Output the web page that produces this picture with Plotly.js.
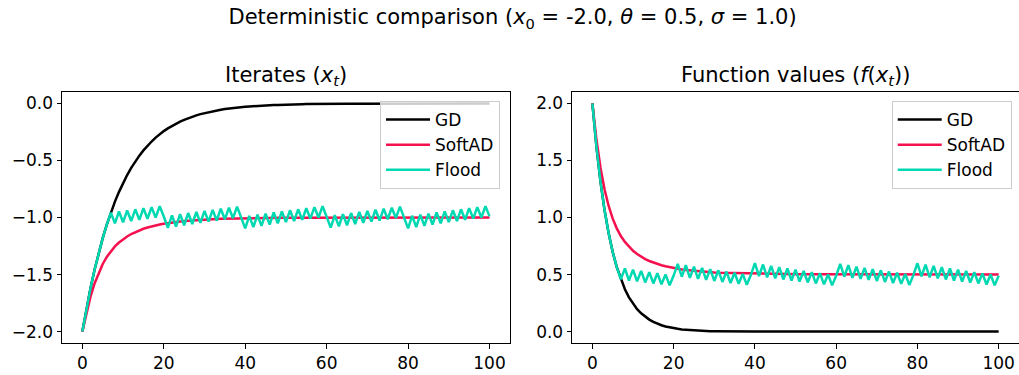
<!DOCTYPE html>
<html>
<head>
<meta charset="utf-8">
<script src="https://cdn.plot.ly/plotly-3.0.1.min.js"></script>
<style>html,body{margin:0;padding:0;background:#fff;}#chart{width:1019px;height:375px;}</style>
</head>
<body>
<div id="chart"></div>
<script>
const steps = [0,1,2,3,4,5,6,7,8,9,10,11,12,13,14,15,16,17,18,19,20,21,22,23,24,25,26,27,28,29,30,31,32,33,34,35,36,37,38,39,40,41,42,43,44,45,46,47,48,49,50,51,52,53,54,55,56,57,58,59,60,61,62,63,64,65,66,67,68,69,70,71,72,73,74,75,76,77,78,79,80,81,82,83,84,85,86,87,88,89,90,91,92,93,94,95,96,97,98,99,100];

const gdIterates = [
-2.000,-1.800,-1.620,-1.458,-1.312,-1.181,-1.063,-0.957,-0.861,-0.775,
-0.697,-0.628,-0.565,-0.508,-0.458,-0.412,-0.371,-0.334,-0.300,-0.270,
-0.243,-0.219,-0.197,-0.177,-0.160,-0.144,-0.129,-0.116,-0.105,-0.094,
-0.085,-0.076,-0.069,-0.062,-0.056,-0.050,-0.045,-0.041,-0.036,-0.033,
-0.030,-0.027,-0.024,-0.022,-0.019,-0.017,-0.016,-0.014,-0.013,-0.011,
-0.010,-0.009,-0.008,-0.008,-0.007,-0.006,-0.005,-0.005,-0.004,-0.004,
-0.004,-0.003,-0.003,-0.003,-0.002,-0.002,-0.002,-0.002,-0.002,-0.001,
-0.001,-0.001,-0.001,-0.001,-0.001,-0.001,-0.001,-0.001,0,0,
0,0,0,0,0,0,0,0,0,0,
0,0,0,0,0,0,0,0,0,0,
0];

const softadIterates = [
-2.000,-1.834,-1.694,-1.578,-1.484,-1.407,-1.345,-1.295,-1.253,-1.219,
-1.190,-1.166,-1.145,-1.128,-1.113,-1.099,-1.088,-1.078,-1.069,-1.062,
-1.055,-1.049,-1.044,-1.039,-1.035,-1.031,-1.028,-1.025,-1.023,-1.020,
-1.018,-1.016,-1.015,-1.013,-1.012,-1.011,-1.010,-1.009,-1.008,-1.007,
-1.006,-1.006,-1.005,-1.005,-1.004,-1.004,-1.003,-1.003,-1.003,-1.002,
-1.002,-1.002,-1.002,-1.002,-1.001,-1.001,-1.001,-1.001,-1.001,-1.001,
-1.001,-1.001,-1.001,-1.001,-1.000,-1.000,-1.000,-1.000,-1.000,-1.000,
-1.000,-1.000,-1.000,-1.000,-1.000,-1.000,-1.000,-1.000,-1.000,-1.000,
-1.000,-1.000,-1.000,-1.000,-1.000,-1.000,-1.000,-1.000,-1.000,-1.000,
-1.000,-1.000,-1.000,-1.000,-1.000,-1.000,-1.000,-1.000,-1.000,-1.000,
-1.000];

const floodIterates = [
-2.000,-1.800,-1.620,-1.458,-1.312,-1.181,-1.063,-0.957,-1.052,-0.947,
-1.042,-0.938,-1.031,-0.928,-1.021,-0.919,-1.011,-0.910,-1.001,-0.901,
-0.991,-1.090,-0.981,-1.079,-0.971,-1.068,-0.961,-1.057,-0.952,-1.047,
-0.942,-1.036,-0.933,-1.026,-0.923,-1.016,-0.914,-1.006,-0.905,-0.996,
-1.095,-0.986,-1.084,-0.976,-1.073,-0.966,-1.063,-0.956,-1.052,-0.947,
-1.041,-0.937,-1.031,-0.928,-1.021,-0.919,-1.010,-0.909,-1.000,-0.900,
-0.990,-1.089,-0.980,-1.078,-0.971,-1.068,-0.961,-1.057,-0.951,-1.046,
-0.942,-1.036,-0.932,-1.026,-0.923,-1.015,-0.914,-1.005,-0.905,-0.995,
-1.095,-0.985,-1.084,-0.975,-1.073,-0.966,-1.062,-0.956,-1.052,-0.946,
-1.041,-0.937,-1.031,-0.928,-1.020,-0.918,-1.010,-0.909,-1.000,-0.900,
-0.990];

const gdValues = [
2.000,1.620,1.312,1.063,0.861,0.697,0.565,0.458,0.371,0.300,
0.243,0.197,0.160,0.129,0.105,0.085,0.069,0.056,0.045,0.036,
0.030,0.024,0.019,0.016,0.013,0.010,0.008,0.007,0.005,0.004,
0.004,0.003,0.002,0.002,0.002,0.001,0.001,0.001,0.001,0,
0,0,0,0,0,0,0,0,0,0,
0,0,0,0,0,0,0,0,0,0,
0,0,0,0,0,0,0,0,0,0,
0,0,0,0,0,0,0,0,0,0,
0,0,0,0,0,0,0,0,0,0,
0,0,0,0,0,0,0,0,0,0,
0];

const softadValues = [
2.000,1.681,1.434,1.245,1.101,0.990,0.905,0.838,0.786,0.743,
0.708,0.680,0.656,0.636,0.619,0.604,0.592,0.581,0.572,0.564,
0.557,0.550,0.545,0.540,0.536,0.532,0.528,0.525,0.523,0.520,
0.518,0.516,0.515,0.513,0.512,0.511,0.510,0.509,0.508,0.507,
0.506,0.506,0.505,0.505,0.504,0.504,0.503,0.503,0.503,0.502,
0.502,0.502,0.502,0.502,0.501,0.501,0.501,0.501,0.501,0.501,
0.501,0.501,0.501,0.501,0.500,0.500,0.500,0.500,0.500,0.500,
0.500,0.500,0.500,0.500,0.500,0.500,0.500,0.500,0.500,0.500,
0.500,0.500,0.500,0.500,0.500,0.500,0.500,0.500,0.500,0.500,
0.500,0.500,0.500,0.500,0.500,0.500,0.500,0.500,0.500,0.500,
0.500];

const floodValues = [
2.000,1.620,1.312,1.063,0.861,0.697,0.565,0.458,0.554,0.448,
0.543,0.440,0.532,0.431,0.521,0.422,0.511,0.414,0.501,0.406,
0.491,0.594,0.481,0.582,0.471,0.570,0.462,0.559,0.453,0.548,
0.444,0.537,0.435,0.526,0.426,0.516,0.418,0.506,0.410,0.496,
0.600,0.486,0.588,0.476,0.576,0.467,0.565,0.457,0.553,0.448,
0.542,0.439,0.531,0.431,0.521,0.422,0.511,0.414,0.500,0.405,
0.490,0.593,0.481,0.582,0.471,0.570,0.462,0.559,0.453,0.548,
0.444,0.537,0.435,0.526,0.426,0.516,0.418,0.505,0.409,0.495,
0.599,0.485,0.587,0.476,0.576,0.466,0.564,0.457,0.553,0.448,
0.542,0.439,0.531,0.430,0.521,0.422,0.510,0.413,0.500,0.405,
0.490];

const seriesNames = ['GD', 'SoftAD', 'Flood'];
const xTicks = [0, 20, 40, 60, 80, 100];
const yTicksLeft = [-2.0, -1.5, -1.0, -0.5, 0.0];
const yTicksRight = [0.0, 0.5, 1.0, 1.5, 2.0];

const colors = ['#000000', '#f5104e', '#00d8b2'];
const FONT = 'DejaVu Sans, sans-serif';

const leftSeries = [gdIterates, softadIterates, floodIterates];
const rightSeries = [gdValues, softadValues, floodValues];

const traces = [];
leftSeries.forEach((ys, i) => {
  traces.push({x: steps, y: ys, type: 'scatter', mode: 'lines', name: seriesNames[i],
    line: {color: colors[i], width: 2.5}, xaxis: 'x', yaxis: 'y', legend: 'legend'});
});
rightSeries.forEach((ys, i) => {
  traces.push({x: steps, y: ys, type: 'scatter', mode: 'lines', name: seriesNames[i],
    line: {color: colors[i], width: 2.5}, xaxis: 'x2', yaxis: 'y2', legend: 'legend2'});
});

function axisBase() {
  return {showline: true, mirror: true, linecolor: '#000', linewidth: 1,
    ticks: 'outside', ticklen: 4.5, tickwidth: 1, tickcolor: '#000',
    showgrid: false, zeroline: false,
    tickfont: {family: FONT, size: 17, color: '#000'}};
}

const legendBase = {bgcolor: 'rgba(255,255,255,0.8)', bordercolor: '#cccccc', borderwidth: 1,
  font: {family: FONT, size: 17, color: '#000'}, xanchor: 'right', yanchor: 'top',
  itemwidth: 44, tracegroupgap: 0};

const layout = {
  width: 1019, height: 375,
  margin: {l: 62, r: 0, t: 92, b: 32},
  paper_bgcolor: '#fff', plot_bgcolor: '#fff',
  showlegend: true,
  title: {text: 'Deterministic comparison (<i>x</i><sub>0</sub> = -2.0, <i>θ</i> = 0.5, <i>σ</i> = 1.0)',
    x: 0.503, xanchor: 'center', y: 0.955, yanchor: 'middle', yref: 'container',
    font: {family: FONT, size: 21, color: '#000'}},
  xaxis: Object.assign(axisBase(), {domain: [0, 0.468], range: [-5, 105], tickvals: xTicks, anchor: 'y'}),
  yaxis: Object.assign(axisBase(), {domain: [0, 1], range: [-2.1, 0.1], tickvals: yTicksLeft, tickformat: '.1f', anchor: 'x'}),
  xaxis2: Object.assign(axisBase(), {domain: [0.533, 1], range: [-5, 105], tickvals: xTicks, anchor: 'y2'}),
  yaxis2: Object.assign(axisBase(), {domain: [0, 1], range: [-0.1, 2.1], tickvals: yTicksRight, tickformat: '.1f', anchor: 'x2'}),
  legend: Object.assign({}, legendBase, {x: 0.4577, y: 0.964}),
  legend2: Object.assign({}, legendBase, {x: 0.9924, y: 0.964}),
  annotations: [
    {text: 'Iterates (<i>x</i><sub><i>t</i></sub>)', xref: 'paper', yref: 'paper', x: 0.234, y: 1.064,
      xanchor: 'center', yanchor: 'middle', showarrow: false, font: {family: FONT, size: 21, color: '#000'}},
    {text: 'Function values (<i>f</i>(<i>x</i><sub><i>t</i></sub>))', xref: 'paper', yref: 'paper', x: 0.7665, y: 1.064,
      xanchor: 'center', yanchor: 'middle', showarrow: false, font: {family: FONT, size: 21, color: '#000'}}
  ]
};

Plotly.newPlot('chart', traces, layout, {displayModeBar: false, staticPlot: true});
</script>
</body>
</html>
